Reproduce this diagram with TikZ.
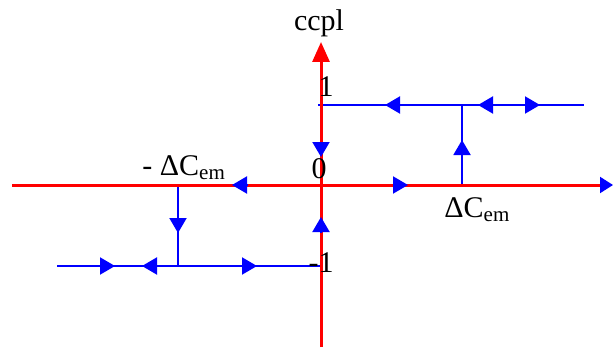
\documentclass[tikz,border=0pt]{standalone}
\usepackage{fontspec}
\setmainfont{Liberation Serif}
\usetikzlibrary{arrows.meta}
\tikzset{
  branch/.style={blue, line width=1pt},
  axis/.style={red, line width=1.5pt},
  flowtip/.style={blue, line width=1pt, -{Triangle[length=7.5pt,width=8.5pt]}},
  lbl/.style={font=\fontsize{15}{18}\selectfont, inner sep=0pt, anchor=base}
}
\begin{document}
\begin{tikzpicture}[x=0.5pt, y=-0.5pt]
\useasboundingbox (0,0) rectangle (613,347);
% key points
\coordinate (O) at (321,185);
\coordinate (ybot) at (321,347);
\coordinate (ytop) at (321,42);
\coordinate (xleft) at (12,185);
\coordinate (xright) at (601,185);
\coordinate (up0) at (318,105);
\coordinate (up1) at (584,105);
\coordinate (upj) at (462,105);
\coordinate (upa) at (462,185);
\coordinate (lo0) at (57,266);
\coordinate (lo1) at (321,266);
\coordinate (loj) at (178,266);
\coordinate (loa) at (178,185);
% branches
\draw[branch] (up0) -- (up1);
\draw[branch] (upa) -- (upj);
\draw[branch] (321,105) -- (O);
\draw[branch] (lo0) -- (lo1);
\draw[branch] (loa) -- (loj);
% axes
\draw[axis, -{Triangle[length=10pt,width=8.5pt]}] (ybot) -- (ytop);
\draw[axis] (xleft) -- (xright);
\draw[flowtip, -{Triangle[length=6.5pt,width=8pt]}] (600,185) -- (613,185);
% direction marks
\foreach \xa/\ya/\xb/\yb in {400/105/385/105, 493/105/478/105, 525/105/540/105,
  247/185/232/185, 393/185/408/185,
  100/266/115/266, 157/266/142/266, 242/266/257/266,
  321/142/321/157, 462/155/462/140, 321/232/321/217, 178/218/178/233}
{
  \draw[flowtip] (\xa,\ya) -- (\xb,\yb);
}
% labels
\node[lbl] (ccpl) at (319,31) {ccpl};
\node[lbl] (one) at (326,97) {1};
\node[lbl] (zero) at (319,178) {0};
\node[lbl] (mone) at (321,272) {-1};
\node[lbl, anchor=base west] (mdc) at (142,175) {- ΔC\textsubscript{em}};
\node[lbl, anchor=base west] (dc) at (444,217) {ΔC\textsubscript{em}};
\end{tikzpicture}
\end{document}
